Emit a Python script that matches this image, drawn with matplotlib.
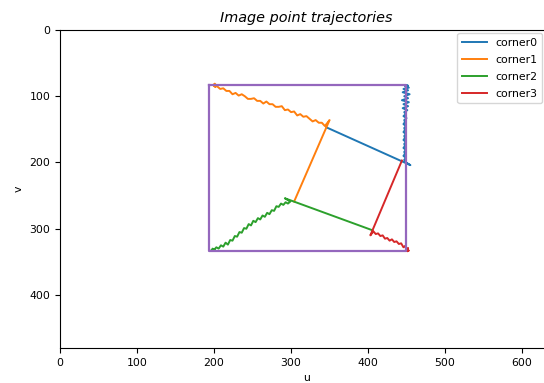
import matplotlib
matplotlib.use("Agg")
import matplotlib.pyplot as plt

# corner trajectories (u, v)
c0_u = [346, 455, 448, 447, 449, 446, 448, 447, 449, 446, 448, 447, 449, 446, 448, 447, 449, 446, 448, 447,
        449, 446, 448, 447, 450, 446, 449, 447, 451, 445, 452, 446, 453, 444, 452, 447, 454, 445, 452, 446,
        453, 448, 452, 449, 451, 450]
c0_v = [147, 204, 199, 196, 193, 190, 187, 184, 181, 178, 175, 172, 169, 166, 163, 160, 157, 154, 151, 148,
        145, 142, 139, 136, 133, 130, 127, 124, 121, 118, 115, 112, 109, 106, 103, 100, 97, 94, 91, 89,
        87, 85, 84, 83, 85, 84]

c1_u = [304, 350, 344, 340, 336, 332, 328, 324, 320, 316, 312, 308, 304, 300, 296, 292, 288, 284, 280, 276,
        272, 268, 264, 260, 256, 252, 248, 244, 240, 236, 232, 228, 224, 220, 216, 212, 208, 205, 203, 201,
        199, 202, 200]
c1_v = [259, 136, 145, 140, 140, 136, 138, 134, 130, 131, 127, 129, 123, 124, 120, 121, 115, 116, 116, 112,
        112, 108, 111, 107, 107, 103, 104, 104, 100, 97, 99, 95, 97, 92, 92, 88, 89, 86, 84, 81,
        83, 86, 84]

c2_u = [405, 292, 299, 296, 293, 290, 287, 284, 281, 278, 275, 272, 269, 266, 263, 260, 257, 254, 251, 248,
        245, 242, 239, 236, 233, 230, 227, 224, 221, 218, 215, 212, 209, 206, 203, 200, 198, 201, 199, 197]
c2_v = [302, 254, 259, 262, 260, 264, 262, 267, 266, 273, 272, 278, 276, 282, 280, 286, 284, 290, 288, 295,
        293, 300, 299, 306, 305, 312, 311, 318, 317, 324, 321, 327, 325, 330, 328, 332, 330, 333, 331, 332]

c3_u = [444, 403, 407, 410, 413, 416, 419, 422, 425, 428, 431, 434, 437, 440, 443, 446, 448, 450, 452, 451,
        453, 450, 452]
c3_v = [197, 310, 304, 308, 307, 311, 310, 315, 314, 318, 316, 320, 319, 323, 322, 328, 326, 331, 329, 334,
        333, 333, 332]

# desired image rectangle
rect_u = [193, 449, 449, 193, 193]
rect_v = [83, 83, 333, 333, 83]

labels = ["corner0", "corner1", "corner2", "corner3"]

fig = plt.figure(figsize=(5.44, 3.83), dpi=100)
ax = fig.add_axes([0.1103, 0.0914, 0.906, 0.8303])

fs = 7.8
for u, v, lab in zip([c0_u, c1_u, c2_u, c3_u], [c0_v, c1_v, c2_v, c3_v], labels):
    ax.plot(u, v, label=lab, lw=1.4)
ax.plot(rect_u, rect_v, lw=1.6)

ax.set_xlim(0, 640)
ax.set_ylim(480, 0)
ax.set_xticks([0, 100, 200, 300, 400, 500, 600])
ax.set_yticks([0, 100, 200, 300, 400])
ax.tick_params(labelsize=fs)
ax.set_xlabel("u", fontsize=fs)
ax.set_ylabel("v", fontsize=fs)
ax.set_title("Image point trajectories", fontsize=10.4, fontstyle="italic")
ax.legend(loc="upper right", fontsize=fs, handlelength=2.3, labelspacing=0.65,
          borderaxespad=0.3, bbox_to_anchor=(0.984, 1.0))

fig.savefig("out.png", dpi=100)
